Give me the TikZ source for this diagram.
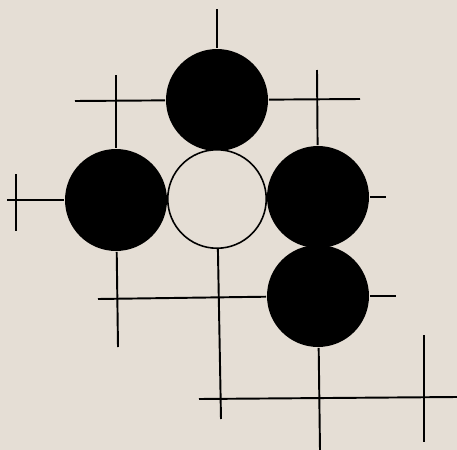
\documentclass[tikz,border=0pt]{standalone}
\usepackage{xcolor}
\definecolor{board}{RGB}{229,222,213}

\begin{document}
\begin{tikzpicture}[
		x=0.02cm, y=-0.02cm,
		line width=1.1pt,
		every node/.style={
			circle,
			inner sep=0pt
		},
		blackstone/.style={fill=black, minimum size=2.04cm},
		whitestone/.style={draw, fill=board, line width=0.9pt, minimum size=1.97cm}
		]
		
		\useasboundingbox[fill=board] (0,0) rectangle (457,450);
		
		% stones
		\node[blackstone] (top) at (217,100) {};
		\node[blackstone] (left) at (116,200) {};
		\node[whitestone] (centre) at (217,199) {};
		\node[blackstone] (right) at (318,197) {};
		\node[blackstone] (lower) at (318,296) {};
		
		% grid lines
		\draw (217,9) -- (top);
		\draw (75,101) -- (top);
		\draw (top) -- (360,99);
		\draw (116,75) -- (left);
		\draw (left) -- (118,347);
		\draw (7,200) -- (left);
		\draw (16,174) -- (16,231);
		\draw (317,70) -- (right);
		\draw (right) -- (386,197);
		\draw (98,299) -- (lower);
		\draw (lower) -- (396,296);
		\draw (lower) -- (320,450);
		\draw (centre) -- (221,419);
		\draw (199,399) -- (457,397);
		\draw (424,335) -- (424,442);
		
	\end{tikzpicture}
\end{document}
